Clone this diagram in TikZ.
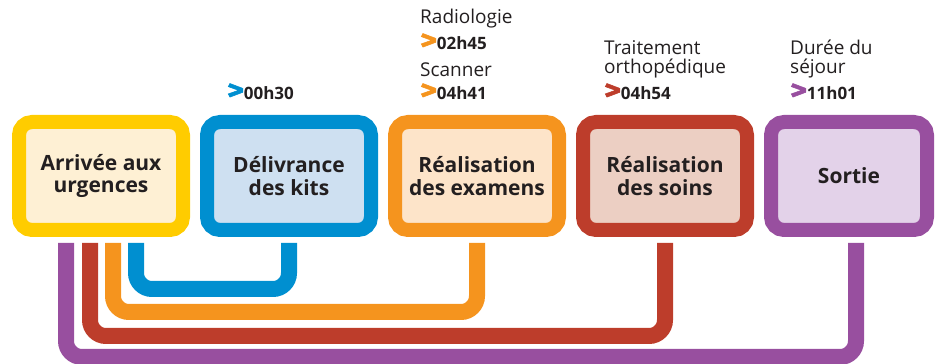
\documentclass[tikz,border=0pt]{standalone}
\usepackage{fontspec}
\setmainfont{Open Sans}
\newfontfamily\chevronfont{Fira Sans}[BoldFeatures={FakeBold=2}]
\usetikzlibrary{positioning}
\definecolor{ink}{RGB}{35,31,32}
\definecolor{jaune}{RGB}{255,204,0}
\definecolor{jaunepale}{RGB}{254,240,212}
\definecolor{bleu}{RGB}{0,143,208}
\definecolor{bleupale}{RGB}{206,224,241}
\definecolor{orange}{RGB}{245,148,30}
\definecolor{orangepale}{RGB}{253,228,201}
\definecolor{rouge}{RGB}{189,61,43}
\definecolor{rougepale}{RGB}{236,207,195}
\definecolor{violet}{RGB}{152,79,159}
\definecolor{violetpale}{RGB}{227,210,233}
\tikzset{
  stage/.style={rounded corners=13pt, line width=14pt, minimum width=164pt,
    minimum height=108pt, align=center, text=ink,
    font=\bfseries\fontsize{21}{22.5}\selectfont},
  note/.style={anchor=south west, inner sep=0pt, align=left, text=ink,
    font=\fontsize{19}{19}\selectfont},
  link/.style={line width=16pt, rounded corners=16pt}}
\newcommand\temps[2]{{\color{#1}\chevronfont\bfseries\fontsize{28}{19}\selectfont\scalebox{1.15}[1]{>}}\textbf{\fontsize{17}{19}\selectfont#2}}

\begin{document}
\begin{tikzpicture}[x=1pt, y=1pt]
        \useasboundingbox (0,0) rectangle (935,364);
        \node[stage, draw=jaune, fill=jaunepale] (arrivee) at (101,188) {Arrivée aux\\urgences};
        \node[stage, draw=bleu, fill=bleupale] (kits) [right=10pt of arrivee] {Délivrance\\des kits};
        \node[stage, draw=orange, fill=orangepale] (examens) [right=10pt of kits] {Réalisation\\des examens};
        \node[stage, draw=rouge, fill=rougepale] (soins) [right=10pt of examens] {Réalisation\\des soins};
        \node[stage, draw=violet, fill=violetpale, minimum width=156pt] (sortie) [right=10pt of soins] {Sortie};
        % durations above the boxes
        \node[note] (tkits) at ([xshift=27pt,yshift=15pt]kits.north west) {\temps{bleu}{00h30}};
        \node[note] (texamens) at ([xshift=32pt,yshift=15pt]examens.north west)
          {Radiologie\\[4pt]\temps{orange}{02h45}\\[8pt]Scanner\\[4pt]\temps{orange}{04h41}};
        \node[note] (tsoins) at ([xshift=28pt,yshift=15pt]soins.north west)
          {Traitement\\orthopédique\\[4pt]\temps{rouge}{04h54}};
        \node[note] (tsortie) at ([xshift=26pt,yshift=15pt]sortie.north west)
          {Durée du\\séjour\\[4pt]\temps{violet}{11h01}};
        % links from arrival
        \draw[link, draw=violet] ([xshift=-35pt,yshift=-6pt]arrivee.south) -- ++(0,-114pt) -| ([xshift=7pt,yshift=-6pt]sortie.south);
        \draw[link, draw=rouge] ([xshift=-11pt,yshift=-6pt]arrivee.south) -- ++(0,-93pt) -| ([yshift=-6pt]soins.south);
        \draw[link, draw=orange] ([xshift=12pt,yshift=-6pt]arrivee.south) -- ++(0,-69pt) -| ([yshift=-6pt]examens.south);
        \draw[link, draw=bleu] ([xshift=35pt,yshift=-6pt]arrivee.south) -- ++(0,-46pt) -| ([yshift=-6pt]kits.south);
\end{tikzpicture}
\end{document}
